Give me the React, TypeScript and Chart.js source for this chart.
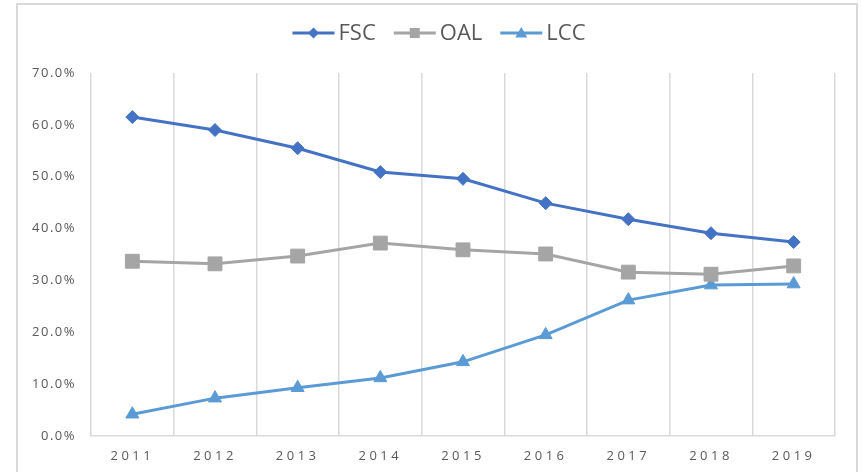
import React, { useEffect, useRef } from 'react';
import { Chart, registerables } from 'chart.js';

Chart.register(...registerables);

const categories = ['2011', '2012', '2013', '2014', '2015', '2016', '2017', '2018', '2019'];
const fscValues = [61.5, 59.0, 55.5, 50.9, 49.6, 44.9, 41.8, 39.1, 37.4];
const oalValues = [33.7, 33.2, 34.7, 37.2, 35.9, 35.1, 31.6, 31.2, 32.8];
const lccValues = [4.2, 7.3, 9.3, 11.2, 14.3, 19.5, 26.2, 29.1, 29.3];
const seriesNames = ['FSC', 'OAL', 'LCC'];
const yMin = 0;
const yMax = 70;
const yStep = 10;

const COLORS = ['#4472C4', '#A5A5A5', '#5B9BD5'];
const SHAPES = ['diamond', 'square', 'triangle'];
const TEXT_COLOR = '#595959';
const GRID_COLOR = '#d9d9d9';
const FONT = '"Open Sans", "DejaVu Sans", sans-serif';

function drawIcon(ctx: CanvasRenderingContext2D, x: number, y: number, color: string, shape: string) {
  const w = 42;
  ctx.save();
  ctx.strokeStyle = color;
  ctx.lineWidth = 3;
  ctx.beginPath();
  ctx.moveTo(x, y);
  ctx.lineTo(x + w, y);
  ctx.stroke();
  ctx.fillStyle = color;
  ctx.beginPath();
  const cx = x + w / 2;
  if (shape === 'diamond') {
    ctx.moveTo(cx, y - 5.5);
    ctx.lineTo(cx + 5.5, y);
    ctx.lineTo(cx, y + 5.5);
    ctx.lineTo(cx - 5.5, y);
    ctx.closePath();
  } else if (shape === 'square') {
    ctx.rect(cx - 5, y - 5, 10, 10);
  } else {
    ctx.moveTo(cx, y - 6);
    ctx.lineTo(cx + 6, y + 4.5);
    ctx.lineTo(cx - 6, y + 4.5);
    ctx.closePath();
  }
  ctx.fill();
  ctx.restore();
}

const customLegend = {
  id: 'customLegend',
  afterDraw(chart: any) {
    const ctx: CanvasRenderingContext2D = chart.ctx;
    const datasets = chart.data.datasets;
    ctx.save();
    ctx.font = '22px ' + FONT;
    ctx.textBaseline = 'middle';
    ctx.fillStyle = TEXT_COLOR;
    const iconW = 42;
    const gap = 4;
    const itemGap = 18;
    const widths = datasets.map((d: any) => iconW + gap + ctx.measureText(d.label).width);
    const total = widths.reduce((a: number, b: number) => a + b, 0) + itemGap * (datasets.length - 1);
    let x = chart.width / 2 - total / 2 + 2;
    const y = 28;
    datasets.forEach((d: any, i: number) => {
      drawIcon(ctx, x, y, COLORS[i], SHAPES[i]);
      ctx.fillStyle = TEXT_COLOR;
      ctx.fillText(d.label, x + iconW + gap, y + 1);
      x += widths[i] + itemGap;
    });
    ctx.restore();
  },
};

const tickSpacing = {
  id: 'tickSpacing',
  beforeDraw(chart: any) {
    const pairs: [string, string][] = [['x', '3.5px'], ['y', '1.5px']];
    for (const [id, sp] of pairs) {
      const s: any = chart.scales[id];
      if (s && !s.__wrapped) {
        const orig = s.drawLabels.bind(s);
        s.drawLabels = (area: any) => {
          const c: any = s.ctx;
          const prev = c.letterSpacing;
          c.letterSpacing = sp;
          orig(area);
          c.letterSpacing = prev;
        };
        s.__wrapped = true;
      }
    }
  },
};

export default function App() {
  const ref = useRef<HTMLCanvasElement | null>(null);

  useEffect(() => {
    if (!ref.current) return;
    const pointStyles = ['rectRot', 'rect', 'triangle'];
    const radii = [6.5, 9.8, 7.5];
    const values = [fscValues, oalValues, lccValues];
    const chart = new Chart(ref.current, {
      type: 'line',
      data: {
        labels: categories,
        datasets: seriesNames.map((name, i) => ({
          label: name,
          data: values[i],
          borderColor: COLORS[i],
          backgroundColor: COLORS[i],
          borderWidth: 3,
          pointStyle: pointStyles[i] as any,
          pointRadius: radii[i],
          pointBorderWidth: 1,
          pointBorderColor: COLORS[i],
          pointBackgroundColor: COLORS[i],
          tension: 0,
          fill: false,
        })),
      },
      options: {
        responsive: false,
        animation: false,
        devicePixelRatio: 1,
        layout: { padding: { left: 0, right: 21, top: 68, bottom: 0 } },
        plugins: {
          legend: { display: false },
          tooltip: { enabled: false },
          title: { display: false },
        },
        scales: {
          x: {
            type: 'category',
            offset: true,
            grid: {
              display: true,
              offset: true,
              color: GRID_COLOR,
              lineWidth: 1.5,
              drawTicks: false,
            },
            border: { display: true, color: GRID_COLOR, width: 1.5 },
            ticks: {
              color: TEXT_COLOR,
              font: { family: FONT, size: 13 },
              padding: 12,
              maxRotation: 0,
            },
            afterFit: (s: any) => {
              s.height = 36;
            },
          },
          y: {
            min: yMin,
            max: yMax,
            grid: { display: false, drawTicks: false },
            border: { display: false },
            ticks: {
              stepSize: yStep,
              color: TEXT_COLOR,
              font: { family: FONT, size: 13 },
              padding: 15,
              callback: (v: any) => Number(v).toFixed(1) + '%',
            },
            afterFit: (s: any) => {
              s.width = 73;
            },
          },
        },
      },
      plugins: [customLegend, tickSpacing],
    });
    return () => chart.destroy();
  }, []);

  return (
    <div
      style={{
        position: 'absolute',
        left: 16,
        top: 3,
        width: 838,
        height: 467,
        borderLeft: `2px solid ${GRID_COLOR}`,
        borderRight: `2px solid ${GRID_COLOR}`,
        borderTop: `2px solid ${GRID_COLOR}`,
        background: '#fff',
      }}
    >
      <canvas ref={ref} width={838} height={467} style={{ display: 'block' }} />
    </div>
  );
}
